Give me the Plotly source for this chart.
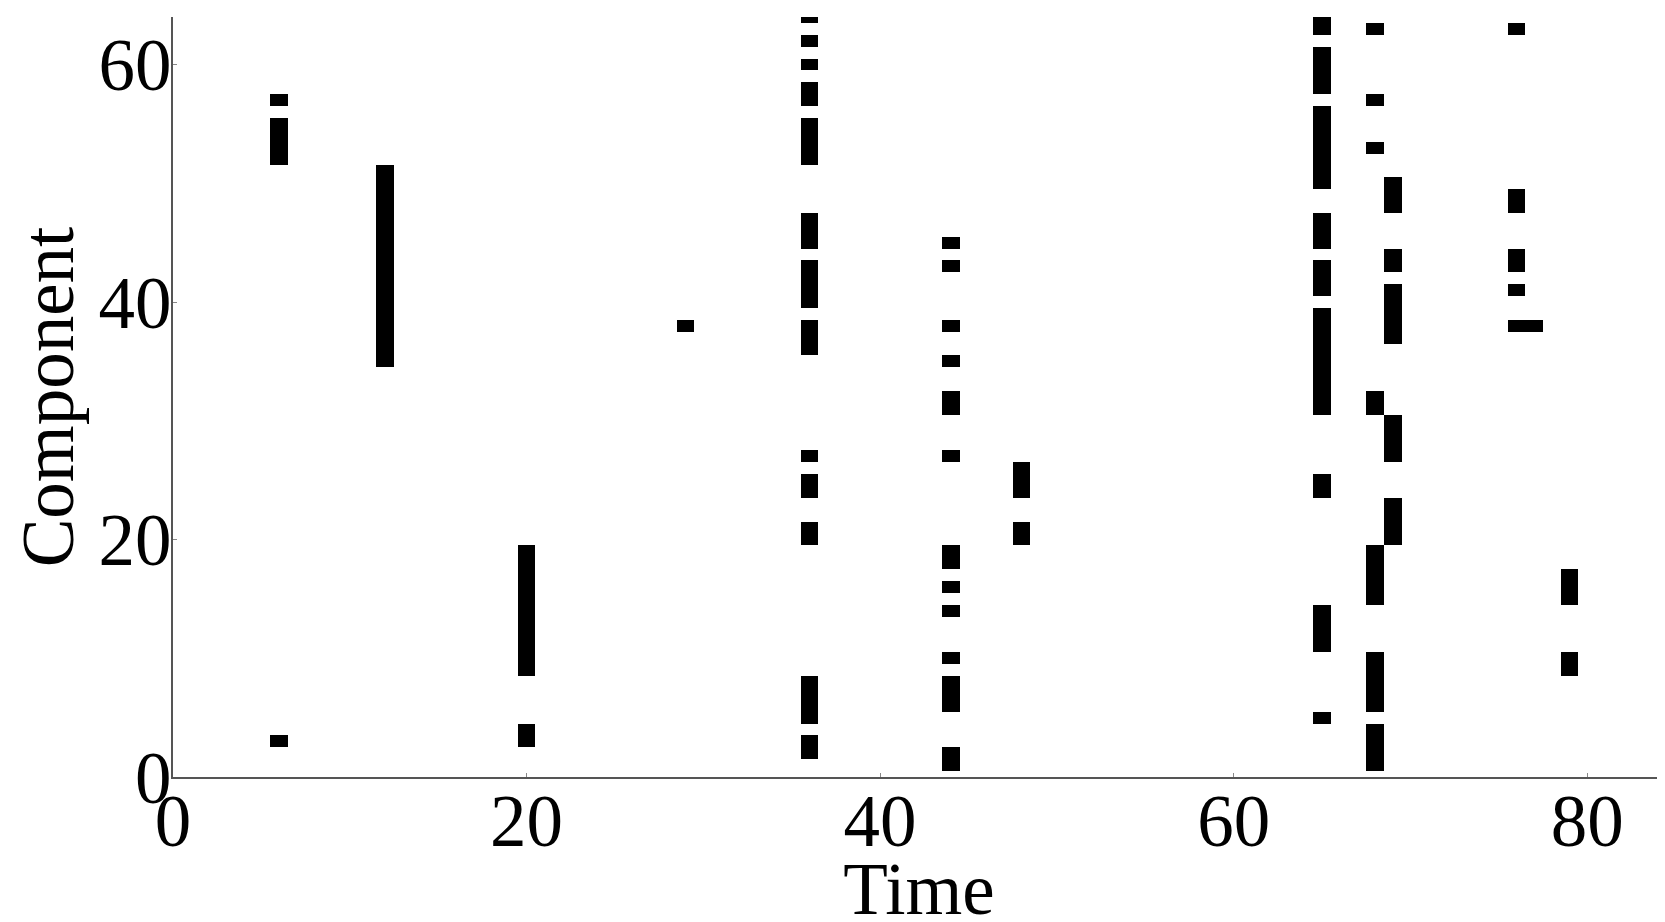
import plotly.graph_objects as go

# Raster events: each entry is (time step, first component, last component)
spike_time = [6, 6, 6,
              12,
              20, 20,
              29,
              36, 36, 36, 36, 36, 36, 36, 36, 36, 36, 36, 36, 36,
              44, 44, 44, 44, 44, 44, 44, 44, 44, 44, 44, 44,
              48, 48,
              65, 65, 65, 65, 65, 65, 65, 65, 65,
              68, 68, 68, 68, 68, 68, 68,
              69, 69, 69, 69, 69,
              76, 76, 76, 76, 76,
              77,
              79, 79]
spike_lo = [3, 52, 57,
            35,
            3, 9,
            38,
            2, 5, 20, 24, 27, 36, 40, 45, 52, 57, 60, 62, 64,
            1, 6, 10, 14, 16, 18, 27, 31, 35, 38, 43, 45,
            20, 24,
            5, 11, 24, 31, 41, 45, 50, 58, 63,
            1, 6, 15, 31, 53, 57, 63,
            20, 27, 37, 43, 48,
            38, 41, 43, 48, 63,
            38,
            9, 15]
spike_hi = [3, 55, 57,
            51,
            4, 19,
            38,
            3, 8, 21, 25, 27, 38, 43, 47, 55, 58, 60, 62, 64,
            2, 8, 10, 14, 16, 19, 27, 32, 35, 38, 43, 45,
            21, 26,
            5, 14, 25, 39, 43, 47, 56, 61, 64,
            4, 10, 19, 32, 53, 57, 63,
            23, 30, 41, 44, 50,
            38, 41, 44, 49, 63,
            38,
            10, 17]

x_ticks = [0, 20, 40, 60, 80]
y_ticks = [0, 20, 40, 60]

lengths = [h - l + 1 for l, h in zip(spike_lo, spike_hi)]
bases = [l - 0.5 for l in spike_lo]

fig = go.Figure(go.Bar(
    x=spike_time, y=lengths, base=bases, width=1,
    marker=dict(color="black", line=dict(width=0)),
    hoverinfo="skip", showlegend=False,
))

font = dict(family="Liberation Serif", size=73, color="black")

fig.update_layout(
    width=1665, height=922,
    margin=dict(l=165, r=8, t=9, b=153),
    paper_bgcolor="white", plot_bgcolor="white",
    barmode="overlay", bargap=0,
    font=font,
    xaxis=dict(
        range=[0, 84.4], tickvals=x_ticks, ticktext=[str(v) for v in x_ticks],
        showline=True, linecolor="#555555", linewidth=2,
        ticks="inside", ticklen=4, tickcolor="#888888",
        showgrid=False, zeroline=False, automargin=False,
        ticklabelstandoff=-21,
        title=dict(text="Time", font=font, standoff=24),
        tickfont=font,
    ),
    yaxis=dict(
        range=[0, 64], tickvals=y_ticks, ticktext=[str(v) for v in y_ticks],
        showline=True, linecolor="#555555", linewidth=2,
        ticks="inside", ticklen=4, tickcolor="#888888",
        showgrid=False, zeroline=False, automargin=False,
        ticklabelstandoff=-15,
        title=dict(text="Component", font=font, standoff=9),
        tickfont=font,
    ),
)

fig.write_html("out.html")
